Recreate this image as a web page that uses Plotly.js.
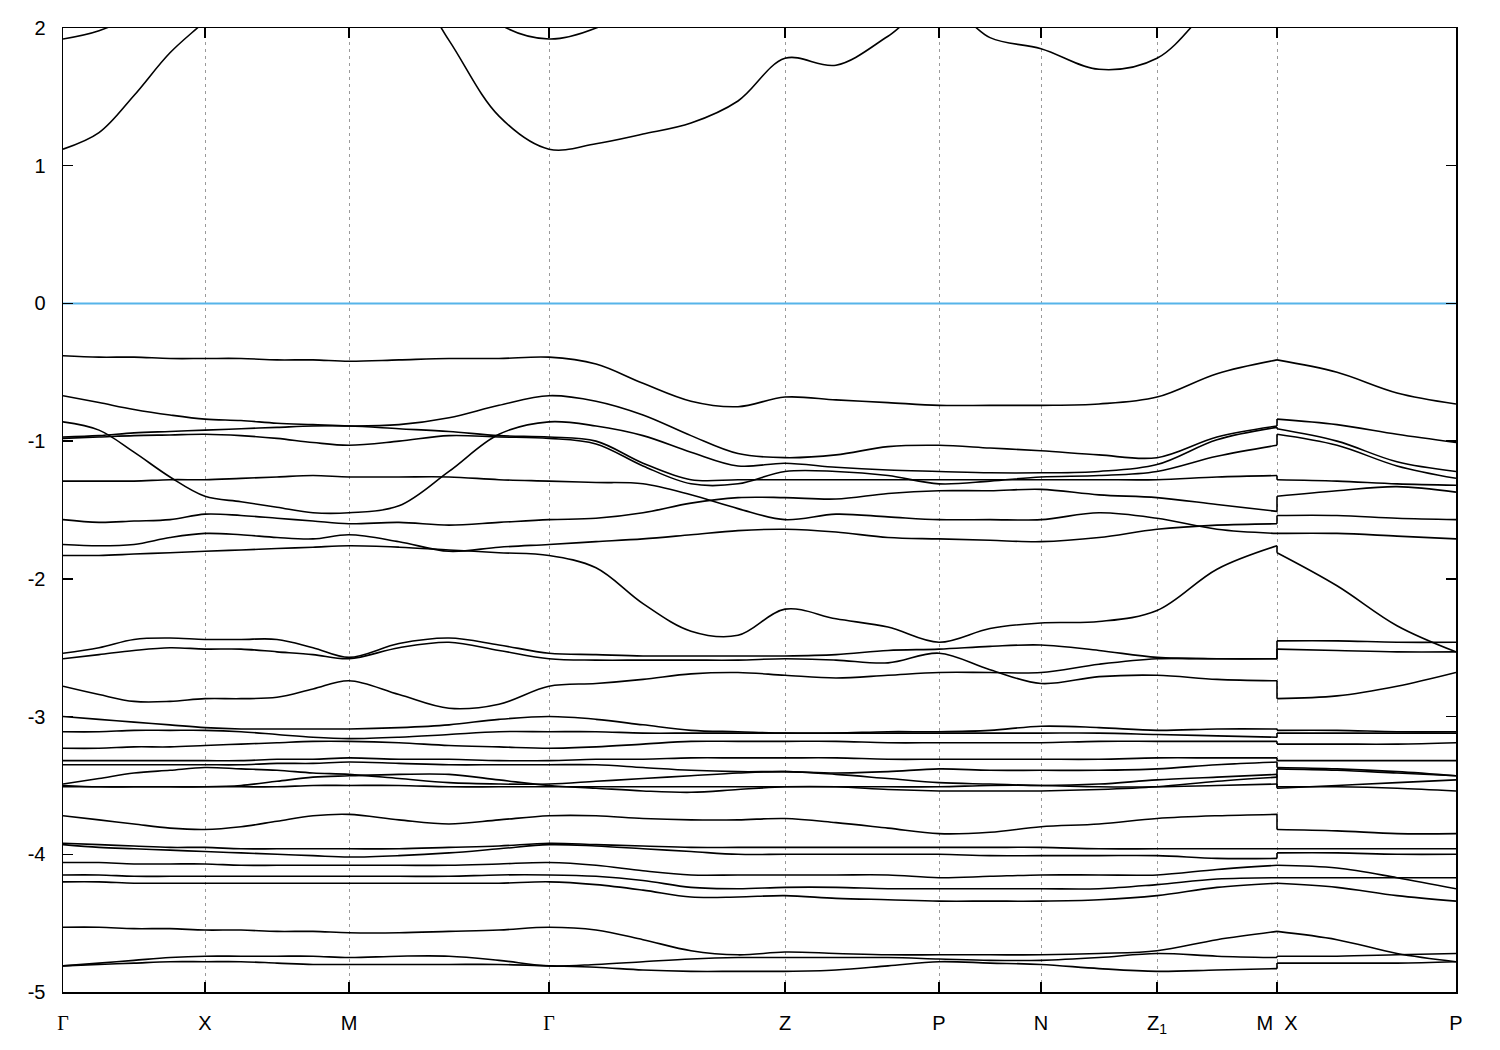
<!DOCTYPE html>
<html>
<head>
<meta charset="utf-8">
<script src="https://cdn.plot.ly/plotly-3.0.1.min.js"></script>
<style>
html,body{margin:0;padding:0;background:#fff;}
#chart{width:1500px;height:1050px;}
</style>
</head>
<body>
<div id="chart"></div>
<script>
// k-path coordinates (path length) of the sampled points
const kA = [0, 0.036, 0.071, 0.107, 0.142, 0.178, 0.214, 0.250, 0.286, 0.336, 0.386, 0.436, 0.486,
            0.533, 0.580, 0.628, 0.675, 0.722, 0.773, 0.825, 0.876, 0.927, 0.978, 1.036, 1.094, 1.154, 1.214];
const kB = [1.214, 1.274, 1.334, 1.393];
const tickPos = [0, 0.142, 0.286, 0.486, 0.722, 0.876, 0.978, 1.094, 1.214, 1.393];
const tickLabels = ['Γ', 'X', 'M', 'Γ', 'Z', 'P', 'N', 'Z<sub>1</sub>', 'M\u00A0\u00A0X', 'P'];
const energyTicks = [-5, -4, -3, -2, -1, 0, 1, 2];
const energyLabels = ['-5', '-4', '-3', '-2', '-1', '0', '1', '2'];
const fermiLevel = 0;

// conduction bands (eV)
const C1_A = [1.12, 1.24, 1.51, 1.82, 2.05, 2.3, 2.45, 2.55, 2.6, 2.45, 1.91, 1.36, 1.12, 1.16, 1.23, 1.31, 1.47, 1.78, 1.73, 1.94, 2.2, 1.93, 1.85, 1.70, 1.78, 2.2, 2.5];
const C1_B = [2.6, 2.6, 2.6, 2.6];
const C2_A = [1.92, 1.98, 2.1, 2.3, 2.5, 2.6, 2.7, 2.8, 2.8, 2.6, 2.4, 2.03, 1.92, 2.0, 2.2, 2.4, 2.5, 2.5, 2.5, 2.5, 2.5, 2.5, 2.5, 2.5, 2.5, 2.6, 2.7];
const C2_B = [2.7, 2.7, 2.7, 2.7];

// valence bands (eV)
const V1_A = [-0.38, -0.39, -0.39, -0.40, -0.40, -0.40, -0.41, -0.41, -0.42, -0.41, -0.40, -0.40, -0.39, -0.44, -0.58, -0.71, -0.75, -0.68, -0.70, -0.72, -0.74, -0.74, -0.74, -0.73, -0.68, -0.51, -0.41];
const V1_B = [-0.41, -0.50, -0.65, -0.73];
const V2_A = [-0.67, -0.72, -0.77, -0.81, -0.84, -0.85, -0.87, -0.88, -0.89, -0.88, -0.83, -0.74, -0.67, -0.71, -0.81, -0.96, -1.09, -1.12, -1.10, -1.04, -1.03, -1.05, -1.07, -1.10, -1.12, -0.97, -0.89];
const V2_B = [-0.84, -0.88, -0.95, -1.01];
const V3_A = [-0.86, -0.92, -1.08, -1.26, -1.40, -1.44, -1.48, -1.52, -1.52, -1.47, -1.22, -0.95, -0.86, -0.89, -0.96, -1.08, -1.18, -1.16, -1.19, -1.21, -1.22, -1.23, -1.23, -1.22, -1.17, -0.99, -0.90];
const V3_B = [-0.91, -1.00, -1.15, -1.22];
const V4_A = [-0.97, -0.96, -0.94, -0.93, -0.92, -0.91, -0.90, -0.89, -0.89, -0.91, -0.93, -0.96, -0.97, -1.00, -1.16, -1.28, -1.28, -1.28, -1.28, -1.28, -1.28, -1.28, -1.28, -1.28, -1.28, -1.26, -1.25];
const V4_B = [-1.28, -1.29, -1.31, -1.32];
const V5_A = [-0.98, -0.97, -0.96, -0.955, -0.95, -0.96, -0.98, -1.01, -1.03, -1.00, -0.96, -0.97, -0.98, -1.02, -1.18, -1.31, -1.31, -1.22, -1.22, -1.25, -1.31, -1.29, -1.26, -1.25, -1.22, -1.11, -1.03];
const V5_B = [-0.95, -1.03, -1.18, -1.27];
const V6_A = [-1.29, -1.29, -1.29, -1.28, -1.28, -1.27, -1.26, -1.25, -1.26, -1.26, -1.26, -1.28, -1.29, -1.30, -1.31, -1.39, -1.49, -1.57, -1.53, -1.55, -1.57, -1.57, -1.57, -1.52, -1.56, -1.64, -1.67];
const V6_B = [-1.67, -1.67, -1.69, -1.71];
const V7_A = [-1.57, -1.59, -1.58, -1.57, -1.53, -1.54, -1.56, -1.58, -1.60, -1.59, -1.61, -1.59, -1.57, -1.56, -1.52, -1.45, -1.41, -1.41, -1.42, -1.38, -1.36, -1.36, -1.35, -1.39, -1.41, -1.46, -1.51];
const V7_B = [-1.40, -1.36, -1.33, -1.37];
const V8_A = [-1.75, -1.76, -1.75, -1.70, -1.67, -1.68, -1.70, -1.71, -1.68, -1.73, -1.80, -1.77, -1.75, -1.73, -1.71, -1.68, -1.65, -1.64, -1.66, -1.70, -1.71, -1.72, -1.73, -1.70, -1.64, -1.61, -1.60];
const V8_B = [-1.54, -1.54, -1.56, -1.57];
const V9_A = [-1.83, -1.83, -1.82, -1.81, -1.80, -1.79, -1.78, -1.77, -1.76, -1.77, -1.79, -1.81, -1.83, -1.92, -2.18, -2.38, -2.41, -2.22, -2.29, -2.35, -2.46, -2.36, -2.32, -2.31, -2.23, -1.93, -1.76];
const V9_B = [-1.81, -2.05, -2.34, -2.53];

const W1_A = [-2.54, -2.50, -2.44, -2.43, -2.44, -2.44, -2.44, -2.50, -2.57, -2.47, -2.43, -2.48, -2.54, -2.55, -2.56, -2.56, -2.56, -2.56, -2.55, -2.52, -2.51, -2.49, -2.48, -2.52, -2.57, -2.58, -2.58];
const W1_B = [-2.45, -2.45, -2.46, -2.46];
const W2_A = [-2.58, -2.55, -2.52, -2.50, -2.51, -2.51, -2.53, -2.55, -2.58, -2.50, -2.46, -2.52, -2.58, -2.59, -2.59, -2.59, -2.59, -2.58, -2.59, -2.61, -2.54, -2.66, -2.76, -2.71, -2.70, -2.73, -2.74];
const W2_B = [-2.87, -2.85, -2.78, -2.68];
const W3_A = [-2.78, -2.84, -2.89, -2.89, -2.87, -2.87, -2.86, -2.80, -2.74, -2.84, -2.94, -2.91, -2.78, -2.76, -2.73, -2.69, -2.68, -2.70, -2.72, -2.70, -2.68, -2.68, -2.68, -2.62, -2.58, -2.58, -2.58];
const W3_B = [-2.51, -2.52, -2.53, -2.53];
const W4_A = [-3.00, -3.02, -3.04, -3.06, -3.08, -3.09, -3.09, -3.09, -3.09, -3.08, -3.06, -3.02, -3.00, -3.02, -3.06, -3.10, -3.11, -3.12, -3.12, -3.11, -3.11, -3.10, -3.07, -3.08, -3.10, -3.09, -3.09];
const W4_B = [-3.10, -3.10, -3.11, -3.11];
const W5_A = [-3.11, -3.11, -3.10, -3.10, -3.10, -3.11, -3.13, -3.15, -3.16, -3.15, -3.13, -3.11, -3.11, -3.11, -3.12, -3.12, -3.12, -3.12, -3.12, -3.12, -3.12, -3.12, -3.12, -3.12, -3.13, -3.14, -3.15];
const W5_B = [-3.12, -3.12, -3.12, -3.12];
const W6_A = [-3.23, -3.23, -3.22, -3.22, -3.21, -3.20, -3.19, -3.18, -3.18, -3.19, -3.21, -3.22, -3.23, -3.22, -3.20, -3.18, -3.18, -3.18, -3.18, -3.19, -3.19, -3.19, -3.19, -3.18, -3.18, -3.18, -3.18];
const W6_B = [-3.20, -3.20, -3.20, -3.19];
const W7_A = [-3.32, -3.32, -3.32, -3.32, -3.32, -3.32, -3.31, -3.31, -3.30, -3.31, -3.31, -3.32, -3.32, -3.31, -3.31, -3.30, -3.30, -3.30, -3.30, -3.31, -3.31, -3.31, -3.31, -3.31, -3.30, -3.30, -3.30];
const W7_B = [-3.32, -3.32, -3.32, -3.32];
const W8_A = [-3.35, -3.35, -3.35, -3.35, -3.35, -3.35, -3.34, -3.34, -3.33, -3.34, -3.35, -3.35, -3.35, -3.35, -3.37, -3.39, -3.40, -3.40, -3.41, -3.40, -3.38, -3.39, -3.39, -3.39, -3.38, -3.35, -3.33];
const W8_B = [-3.37, -3.38, -3.40, -3.43];
const W9_A = [-3.49, -3.45, -3.41, -3.39, -3.37, -3.38, -3.39, -3.41, -3.42, -3.45, -3.48, -3.49, -3.49, -3.47, -3.45, -3.43, -3.41, -3.40, -3.42, -3.45, -3.48, -3.49, -3.50, -3.49, -3.46, -3.44, -3.42];
const W9_B = [-3.51, -3.51, -3.52, -3.54];
const W10_A = [-3.50, -3.51, -3.51, -3.51, -3.51, -3.50, -3.47, -3.44, -3.43, -3.42, -3.42, -3.46, -3.50, -3.52, -3.54, -3.55, -3.53, -3.51, -3.51, -3.53, -3.54, -3.54, -3.54, -3.53, -3.51, -3.47, -3.44];
const W10_B = [-3.38, -3.39, -3.41, -3.43];
const W11_A = [-3.51, -3.51, -3.51, -3.51, -3.51, -3.51, -3.51, -3.50, -3.50, -3.50, -3.51, -3.51, -3.51, -3.51, -3.51, -3.51, -3.51, -3.51, -3.51, -3.51, -3.51, -3.50, -3.50, -3.51, -3.51, -3.50, -3.49];
const W11_B = [-3.52, -3.50, -3.48, -3.46];

const Y1_A = [-3.72, -3.75, -3.78, -3.81, -3.82, -3.80, -3.76, -3.72, -3.71, -3.75, -3.78, -3.75, -3.72, -3.72, -3.74, -3.75, -3.75, -3.74, -3.77, -3.81, -3.85, -3.84, -3.80, -3.78, -3.74, -3.72, -3.71];
const Y1_B = [-3.82, -3.83, -3.85, -3.85];
const Y2_A = [-3.92, -3.93, -3.94, -3.95, -3.95, -3.96, -3.96, -3.96, -3.96, -3.96, -3.95, -3.94, -3.92, -3.93, -3.94, -3.95, -3.95, -3.95, -3.95, -3.95, -3.95, -3.95, -3.95, -3.96, -3.96, -3.96, -3.96];
const Y2_B = [-3.96, -3.96, -3.96, -3.96];
const Y3_A = [-3.93, -3.95, -3.96, -3.97, -3.98, -3.99, -4.00, -4.01, -4.02, -4.01, -3.99, -3.96, -3.93, -3.94, -3.96, -3.98, -4.00, -4.00, -4.00, -4.00, -4.00, -4.01, -4.01, -4.01, -4.01, -4.03, -4.03];
const Y3_B = [-3.99, -3.99, -4.00, -4.00];
const Y4_A = [-4.06, -4.06, -4.07, -4.07, -4.07, -4.08, -4.08, -4.08, -4.08, -4.08, -4.08, -4.07, -4.06, -4.08, -4.12, -4.15, -4.15, -4.15, -4.15, -4.15, -4.17, -4.16, -4.15, -4.15, -4.15, -4.11, -4.08];
const Y4_B = [-4.08, -4.10, -4.17, -4.25];
const Y5_A = [-4.15, -4.15, -4.16, -4.16, -4.16, -4.16, -4.16, -4.16, -4.16, -4.16, -4.16, -4.15, -4.15, -4.16, -4.19, -4.24, -4.25, -4.24, -4.24, -4.25, -4.25, -4.25, -4.25, -4.25, -4.22, -4.18, -4.17];
const Y5_B = [-4.17, -4.17, -4.17, -4.17];
const Y6_A = [-4.20, -4.20, -4.21, -4.21, -4.21, -4.21, -4.21, -4.21, -4.21, -4.21, -4.21, -4.21, -4.20, -4.22, -4.26, -4.31, -4.31, -4.30, -4.32, -4.33, -4.34, -4.34, -4.34, -4.33, -4.30, -4.24, -4.21];
const Y6_B = [-4.21, -4.24, -4.30, -4.34];
const Y7_A = [-4.53, -4.53, -4.54, -4.54, -4.55, -4.55, -4.56, -4.56, -4.57, -4.57, -4.56, -4.55, -4.53, -4.55, -4.62, -4.70, -4.73, -4.71, -4.72, -4.73, -4.73, -4.73, -4.73, -4.72, -4.70, -4.62, -4.56];
const Y7_B = [-4.56, -4.62, -4.72, -4.78];
const Y8_A = [-4.81, -4.79, -4.77, -4.75, -4.74, -4.74, -4.74, -4.74, -4.75, -4.74, -4.74, -4.77, -4.81, -4.80, -4.78, -4.76, -4.75, -4.75, -4.75, -4.75, -4.76, -4.77, -4.77, -4.75, -4.72, -4.74, -4.75];
const Y8_B = [-4.74, -4.74, -4.73, -4.72];
const Y9_A = [-4.81, -4.80, -4.79, -4.78, -4.78, -4.78, -4.79, -4.80, -4.80, -4.80, -4.80, -4.80, -4.81, -4.82, -4.84, -4.85, -4.85, -4.85, -4.84, -4.81, -4.78, -4.79, -4.80, -4.83, -4.85, -4.84, -4.83];
const Y9_B = [-4.79, -4.79, -4.79, -4.78];

const bandList = [
  [C1_A, C1_B], [C2_A, C2_B],
  [V1_A, V1_B], [V2_A, V2_B], [V3_A, V3_B], [V4_A, V4_B], [V5_A, V5_B],
  [V6_A, V6_B], [V7_A, V7_B], [V8_A, V8_B], [V9_A, V9_B],
  [W1_A, W1_B], [W2_A, W2_B], [W3_A, W3_B], [W4_A, W4_B], [W5_A, W5_B],
  [W6_A, W6_B], [W7_A, W7_B], [W8_A, W8_B], [W9_A, W9_B], [W10_A, W10_B], [W11_A, W11_B],
  [Y1_A, Y1_B], [Y2_A, Y2_B], [Y3_A, Y3_B], [Y4_A, Y4_B], [Y5_A, Y5_B],
  [Y6_A, Y6_B], [Y7_A, Y7_B], [Y8_A, Y8_B], [Y9_A, Y9_B]
];

const lineStyle = {color: '#000000', width: 1.6, shape: 'spline', smoothing: 1.0};
const traces = [];
const jumpX = [], jumpY = [];
bandList.forEach(function (b) {
  traces.push({x: kA, y: b[0], type: 'scatter', mode: 'lines', line: lineStyle, hoverinfo: 'skip'});
  traces.push({x: kB, y: b[1], type: 'scatter', mode: 'lines', line: lineStyle, hoverinfo: 'skip'});
  jumpX.push(kA[kA.length - 1], kB[0], null);
  jumpY.push(b[0][b[0].length - 1], b[1][0], null);
});
traces.push({x: jumpX, y: jumpY, type: 'scatter', mode: 'lines', line: {color: '#000000', width: 1.6}, hoverinfo: 'skip'});
// Fermi level
traces.unshift({x: [kA[0], kB[kB.length - 1]], y: [fermiLevel, fermiLevel], type: 'scatter', mode: 'lines',
  line: {color: '#56b4e9', width: 2}, hoverinfo: 'skip'});

const gammaTxt = tickLabels.map(function (t) {
  return t === 'Γ' ? '<span style="font-family:\'Liberation Serif\',serif">Γ</span>' : t;
});

const layout = {
  width: 1500, height: 1050,
  margin: {l: 63, r: 44, t: 28, b: 58, pad: 0},
  paper_bgcolor: '#ffffff', plot_bgcolor: '#ffffff',
  showlegend: false,
  font: {family: 'Liberation Sans, Arial, sans-serif', size: 20, color: '#000000'},
  xaxis: {
    range: [kA[0], kB[kB.length - 1]],
    tickmode: 'array', tickvals: tickPos, ticktext: gammaTxt,
    ticks: 'inside', ticklen: 10, tickwidth: 1.5, tickcolor: '#000000',
    showline: true, linecolor: '#000000', linewidth: 1.5, mirror: 'ticks',
    showgrid: true, gridcolor: '#9a9a9a', gridwidth: 1, griddash: '3px,4px',
    zeroline: false, ticklabelstandoff: 12,
    tickfont: {family: 'Liberation Sans, Arial, sans-serif', size: 20, color: '#000000'}
  },
  yaxis: {
    range: [-5, 2],
    tickmode: 'array', tickvals: energyTicks, ticktext: energyLabels,
    ticks: 'inside', ticklen: 10, tickwidth: 1.5, tickcolor: '#000000',
    showline: true, linecolor: '#000000', linewidth: 1.5, mirror: 'ticks',
    showgrid: false, zeroline: false, ticklabelstandoff: 12,
    tickfont: {family: 'Liberation Sans, Arial, sans-serif', size: 20, color: '#000000'}
  }
};

Plotly.newPlot('chart', traces, layout, {staticPlot: true, displayModeBar: false});
</script>
</body>
</html>
